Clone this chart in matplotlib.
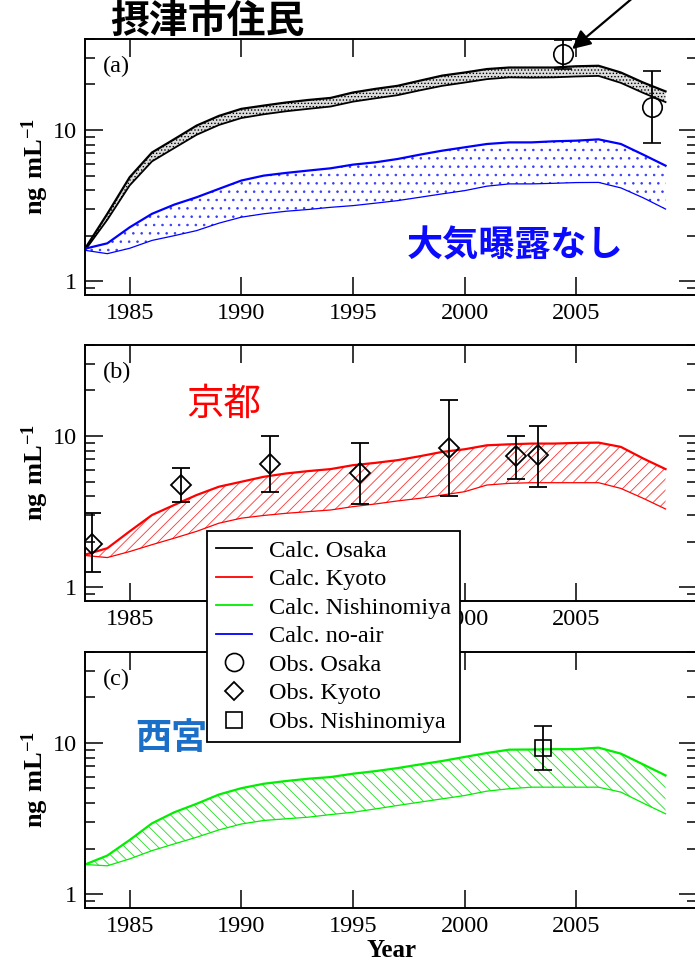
import matplotlib
matplotlib.use('Agg')
import matplotlib.pyplot as plt
from matplotlib.lines import Line2D
from matplotlib.ticker import FixedLocator, FuncFormatter, LogLocator, NullFormatter

plt.rcParams['font.family'] = ['Liberation Serif', 'Noto Sans CJK JP']
plt.rcParams['mathtext.fontset'] = 'custom'
plt.rcParams['mathtext.rm'] = 'Liberation Serif'
plt.rcParams['mathtext.bf'] = 'Liberation Serif:bold'
plt.rcParams['hatch.linewidth'] = 0.6

years = list(range(1983, 2010))

# (a) Osaka
osaka_hi = [1.64, 2.79, 4.87, 7.1, 8.7, 10.7, 12.4, 13.8, 14.5, 15.2, 15.8, 16.3, 17.7, 18.7,
            19.6, 21.2, 22.9, 24.0, 25.3, 25.9, 25.9, 25.9, 26.4, 26.6, 24.0, 20.6, 18.0]
osaka_lo = [1.6, 2.55, 4.3, 6.2, 7.6, 9.3, 10.8, 12.0, 12.7, 13.3, 13.8, 14.3, 15.4, 16.2,
            17.0, 18.3, 19.6, 20.6, 21.7, 22.3, 22.2, 22.3, 22.6, 22.8, 20.5, 17.6, 15.3]
noair_hi = [1.64, 1.78, 2.27, 2.79, 3.21, 3.59, 4.08, 4.63, 4.99, 5.2, 5.39, 5.58, 5.9, 6.11,
            6.43, 6.87, 7.3, 7.68, 8.08, 8.28, 8.28, 8.42, 8.5, 8.67, 8.08, 6.87, 5.81]
noair_lo = [1.6, 1.52, 1.65, 1.86, 2.0, 2.16, 2.42, 2.65, 2.79, 2.9, 2.98, 3.08, 3.16, 3.28,
            3.41, 3.59, 3.78, 3.97, 4.25, 4.4, 4.4, 4.44, 4.49, 4.5, 4.14, 3.56, 3.0]
obs_osaka_x = [2004.4, 2008.4]
obs_osaka_y = [31.8, 14.3]
obs_osaka_top = [39.3, 24.4]
obs_osaka_bot = [25.3, 8.2]

# (b) Kyoto
kyoto_hi = [1.64, 1.81, 2.34, 3.0, 3.5, 4.07, 4.62, 4.98, 5.37, 5.65, 5.86, 6.04, 6.41, 6.64,
            6.92, 7.35, 7.85, 8.17, 8.68, 8.81, 8.91, 8.91, 9.0, 9.04, 8.47, 7.1, 6.04]
kyoto_lo = [1.62, 1.57, 1.72, 1.91, 2.11, 2.34, 2.65, 2.86, 2.98, 3.08, 3.16, 3.24, 3.41, 3.55,
            3.72, 3.87, 4.07, 4.28, 4.74, 4.86, 4.91, 4.91, 4.91, 4.91, 4.5, 3.87, 3.29]
obs_kyoto_x = [1983.3, 1987.3, 1991.3, 1995.3, 1999.3, 2002.3, 2003.3]
obs_kyoto_y = [1.93, 4.73, 6.48, 5.65, 8.34, 7.35, 7.46]
obs_kyoto_top = [3.08, 6.1, 9.95, 9.04, 17.2, 10.0, 11.6]
obs_kyoto_bot = [1.26, 3.68, 4.28, 3.53, 4.03, 5.16, 4.62]

# (c) Nishinomiya
nishi_hi = [1.57, 1.8, 2.28, 2.94, 3.48, 3.96, 4.56, 5.02, 5.37, 5.6, 5.8, 5.95, 6.26, 6.51,
            6.82, 7.21, 7.6, 8.08, 8.58, 9.03, 9.05, 9.1, 9.1, 9.31, 8.5, 7.21, 6.1]
nishi_lo = [1.57, 1.54, 1.71, 1.94, 2.15, 2.38, 2.66, 2.91, 3.07, 3.15, 3.23, 3.36, 3.48, 3.66,
            3.86, 4.06, 4.27, 4.49, 4.8, 4.98, 5.1, 5.1, 5.1, 5.1, 4.73, 4.0, 3.4]
obs_nishi_x = [2003.5]
obs_nishi_y = [9.27]
obs_nishi_top = [12.97]
obs_nishi_bot = [6.65]

xticks = [1985, 1990, 1995, 2000, 2005]

fig = plt.figure(figsize=(6.95, 9.65), dpi=100)
left, width, height = 0.1223, 0.8806, 0.2653
ax_a = fig.add_axes([left, 0.6943, width, height])
ax_b = fig.add_axes([left, 0.3772, width, height])
ax_c = fig.add_axes([left, 0.0591, width, height])


def style_axis(ax, tag):
    ax.set_yscale('log')
    ax.set_xlim(1983, 2010.41)
    ax.set_ylim(0.81, 40)
    ax.xaxis.set_major_locator(FixedLocator(xticks))
    ax.yaxis.set_major_locator(FixedLocator([1, 10]))
    ax.yaxis.set_major_formatter(FuncFormatter(lambda v, p: '%d' % v))
    ax.yaxis.set_minor_locator(LogLocator(base=10, subs=range(2, 10)))
    ax.yaxis.set_minor_formatter(NullFormatter())
    ax.tick_params(which='both', direction='in', top=True, right=True, labelsize=17.5, width=1.1)
    ax.tick_params(which='major', length=13, pad=6)
    ax.tick_params(which='minor', length=7)
    for s in ax.spines.values():
        s.set_linewidth(1.4)
    ax.set_ylabel(r'$\mathbf{ng\ mL^{-1}}$', fontsize=19, labelpad=1)
    ax.text(0.03, 0.87, tag, transform=ax.transAxes, fontsize=17.5)


def errs(y, top, bot):
    return [[a - b for a, b in zip(y, bot)], [t - a for a, t in zip(y, top)]]


# panel a
ax_a.fill_between(years, osaka_lo, osaka_hi, facecolor='#dcdcdc', edgecolor='k', hatch='.....', lw=0)
ax_a.plot(years, osaka_hi, color='k', lw=1.6)
ax_a.plot(years, osaka_lo, color='k', lw=1.3)
ax_a.fill_between(years, noair_lo, noair_hi, facecolor='none', edgecolor='#3a3aff', hatch='..', lw=0)
ax_a.plot(years, noair_hi, color='#0000ff', lw=1.6)
ax_a.plot(years, noair_lo, color='#0000ff', lw=0.9)
ax_a.errorbar(obs_osaka_x, obs_osaka_y, yerr=errs(obs_osaka_y, obs_osaka_top, obs_osaka_bot),
              fmt='o', ms=14, mfc='none', mec='k', mew=1.2, ecolor='k', elinewidth=1.3,
              capsize=6.5, capthick=1.3)
style_axis(ax_a, '(a)')
ax_a.text(0.525, 0.19, '大気曝露なし', transform=ax_a.transAxes, color='#0a0aff',
          fontsize=26, family='Noto Sans CJK JP', weight='bold', va='center')
ax_a.annotate('', xy=(2004.72, 33.4), xycoords='data', xytext=(0.924, 1.0104),
              textcoords='figure fraction', annotation_clip=False,
              arrowprops=dict(arrowstyle='-|>', color='k', lw=1.6, mutation_scale=28))

# panel b
ax_b.fill_between(years, kyoto_lo, kyoto_hi, facecolor='none', edgecolor='#ff3333', hatch='///', lw=0)
ax_b.plot(years, kyoto_hi, color='#ff0000', lw=1.6)
ax_b.plot(years, kyoto_lo, color='#ff0000', lw=0.9)
ax_b.errorbar(obs_kyoto_x, obs_kyoto_y, yerr=errs(obs_kyoto_y, obs_kyoto_top, obs_kyoto_bot),
              fmt='D', ms=10, mfc='none', mec='k', mew=1.3, ecolor='k', elinewidth=1.3,
              capsize=6.5, capthick=1.3)
style_axis(ax_b, '(b)')
ax_b.text(0.165, 0.77, '京都', transform=ax_b.transAxes, color='#ff0000',
          fontsize=27, family='Noto Sans CJK JP', va='center')

# panel c
ax_c.fill_between(years, nishi_lo, nishi_hi, facecolor='none', edgecolor='#22dd22', hatch='\\\\\\', lw=0)
ax_c.plot(years, nishi_hi, color='#00ee00', lw=1.6)
ax_c.plot(years, nishi_lo, color='#00ee00', lw=0.9)
ax_c.errorbar(obs_nishi_x, obs_nishi_y, yerr=errs(obs_nishi_y, obs_nishi_top, obs_nishi_bot),
              fmt='s', ms=11.5, mfc='none', mec='k', mew=1.2, ecolor='k', elinewidth=1.3,
              capsize=6.5, capthick=1.3)
style_axis(ax_c, '(c)')
ax_c.text(0.082, 0.66, '西宮', transform=ax_c.transAxes, color='#1a6fc8',
          fontsize=26, family='Noto Sans CJK JP', weight='bold', va='center')
ax_c.set_xlabel('Year', fontsize=18, weight='bold', labelpad=1)

fig.text(0.298, 0.977, '摂津市住民', fontsize=28, family='Noto Sans CJK JP', weight='bold',
         ha='center', va='center')

handles = [
    Line2D([], [], color='k', lw=1.3),
    Line2D([], [], color='#ff0000', lw=1.3),
    Line2D([], [], color='#00ee00', lw=1.3),
    Line2D([], [], color='#0000ff', lw=1.3),
    Line2D([], [], ls='none', marker='o', ms=13, mfc='none', mec='k', mew=1.2),
    Line2D([], [], ls='none', marker='D', ms=9.5, mfc='none', mec='k', mew=1.3),
    Line2D([], [], ls='none', marker='s', ms=11, mfc='none', mec='k', mew=1.2),
]
labels = ['Calc. Osaka', 'Calc. Kyoto', 'Calc. Nishinomiya', 'Calc. no-air',
          'Obs. Osaka', 'Obs. Kyoto', 'Obs. Nishinomiya']
leg = fig.legend(handles, labels, loc='upper left', bbox_to_anchor=(0.298, 0.4497),
                 bbox_transform=fig.transFigure, frameon=True, fancybox=False, framealpha=1,
                 edgecolor='k', fontsize=17.5, borderaxespad=0, borderpad=0.35,
                 handlelength=1.5, handletextpad=0.7, labelspacing=0.27)
leg.get_frame().set_linewidth(1.3)

fig.savefig('out.png', dpi=100)
